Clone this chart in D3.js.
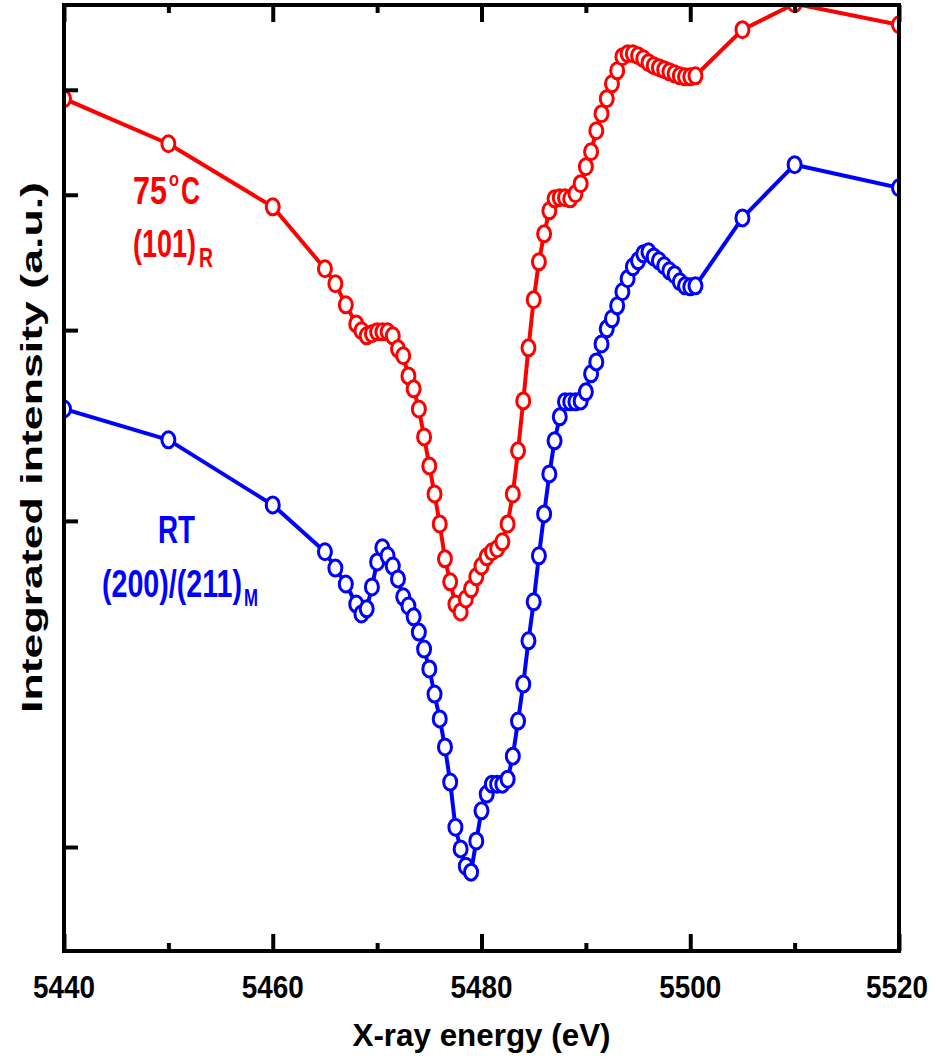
<!DOCTYPE html>
<html>
<head>
<meta charset="utf-8">
<script src="https://cdn.jsdelivr.net/npm/d3@7"></script>
<style>
  html, body { margin: 0; padding: 0; background: #fff; }
  svg { display: block; }
  text { font-family: "Liberation Sans", Arial, sans-serif; font-weight: bold; }
</style>
</head>
<body>
<svg id="chart" width="936" height="1064"></svg>
<script>
// X-ray energies (eV)
const energy = [5440, 5450, 5460, 5465, 5466, 5467,
  5468, 5468.5, 5469, 5469.5, 5470, 5470.5, 5471, 5471.5, 5472, 5472.5,
  5473, 5473.5, 5474, 5474.5, 5475, 5475.5, 5476, 5476.5, 5477, 5477.5,
  5478, 5478.5, 5479, 5479.5, 5480, 5480.5, 5481, 5481.5, 5482, 5482.5,
  5483, 5483.5, 5484, 5484.5, 5485, 5485.5, 5486, 5486.5, 5487, 5487.5,
  5488, 5488.5, 5489, 5489.5, 5490, 5490.5, 5491, 5491.5, 5492, 5492.5,
  5493, 5493.5, 5494, 5494.5, 5495, 5495.5, 5496, 5496.5, 5497, 5497.5,
  5498, 5498.5, 5499, 5499.5, 5500, 5500.5, 5505, 5510, 5520];

// 75oC, (101)R  integrated intensity (a.u., log axis)
const red75C = [4.906, 4.458, 3.899, 3.418, 3.311, 3.166,
  3.040, 2.996, 2.964, 2.977, 2.989, 2.989, 2.989, 2.964, 2.883, 2.841,
  2.722, 2.648, 2.537, 2.391, 2.248, 2.118, 1.987, 1.845, 1.757, 1.676,
  1.648, 1.694, 1.731, 1.776, 1.817, 1.853, 1.873, 1.885, 1.913, 1.987,
  2.118, 2.321, 2.581, 2.889, 3.200, 3.469, 3.681, 3.866, 3.966, 3.975,
  3.975, 3.966, 4.009, 4.095, 4.246, 4.383, 4.583, 4.752, 4.906, 5.064,
  5.206, 5.364, 5.398, 5.398, 5.375, 5.341, 5.296, 5.262, 5.240, 5.218,
  5.195, 5.173, 5.151, 5.140, 5.140, 5.151, 5.681, 6.004, 5.741];

// RT, (200)/(211)M
const blueRT = [2.537, 2.376, 2.069, 1.873, 1.809, 1.749,
  1.676, 1.641, 1.659, 1.738, 1.833, 1.889, 1.857, 1.817, 1.768, 1.702,
  1.669, 1.631, 1.579, 1.523, 1.460, 1.384, 1.313, 1.237, 1.148, 1.043,
  0.996, 0.960, 0.948, 1.013, 1.080, 1.119, 1.143, 1.143, 1.143, 1.155,
  1.213, 1.307, 1.414, 1.550, 1.684, 1.857, 2.030, 2.210, 2.371, 2.495,
  2.576, 2.576, 2.576, 2.581, 2.631, 2.734, 2.804, 2.913, 3.008, 3.073,
  3.159, 3.255, 3.346, 3.432, 3.476, 3.528, 3.543, 3.505, 3.476, 3.440,
  3.403, 3.375, 3.325, 3.296, 3.289, 3.296, 3.808, 4.264, 4.060];

const xMajorTicks = [5440, 5460, 5480, 5500, 5520];
const xMinorTicks = [5450, 5470, 5490, 5510];
const yTicks = [1, 2, 3, 4, 5];
const xDomain = [5440, 5520];
const yDomain = [0.8, 6];

const svg = d3.select("#chart");
const L = 64, R = 899, T = 5, B = 951;

const x = d3.scaleLinear().domain(xDomain).range([L, R]);
const y = d3.scaleLog().domain(yDomain).range([B + 1, T - 1]);

svg.append("defs").append("clipPath").attr("id", "plotclip")
  .append("rect").attr("x", L).attr("y", T).attr("width", R - L).attr("height", B - T);

const plot = svg.append("g").attr("clip-path", "url(#plotclip)");

function drawSeries(vals, color) {
  const pts = energy.map((e, i) => [e, vals[i]]);
  const line = d3.line().x(d => x(d[0])).y(d => y(d[1]));
  plot.append("path").datum(pts)
    .attr("d", line).attr("fill", "none")
    .attr("stroke", color).attr("stroke-width", 4).attr("stroke-linejoin", "round");
  plot.append("g").selectAll("ellipse").data(pts).join("ellipse")
    .attr("cx", d => x(d[0])).attr("cy", d => y(d[1]))
    .attr("rx", 6.5).attr("ry", 8)
    .attr("fill", "#fff").attr("stroke", color).attr("stroke-width", 3);
}
drawSeries(blueRT, "#0000ff");
drawSeries(red75C, "#ff0000");

// Axes ticks
function styleAxis(g) {
  g.select(".domain").remove();
  g.selectAll(".tick line").attr("stroke", "#000").attr("stroke-width", 4);
}
svg.append("g").attr("transform", `translate(0,${B})`)
  .call(d3.axisBottom(x).tickValues(xMajorTicks).tickSize(-17).tickFormat(""))
  .call(styleAxis);
svg.append("g").attr("transform", `translate(0,${B})`)
  .call(d3.axisBottom(x).tickValues(xMinorTicks).tickSize(-8).tickFormat(""))
  .call(styleAxis);
svg.append("g").attr("transform", `translate(0,${T})`)
  .call(d3.axisTop(x).tickValues(xMajorTicks).tickSize(-17).tickFormat(""))
  .call(styleAxis);
svg.append("g").attr("transform", `translate(0,${T})`)
  .call(d3.axisTop(x).tickValues(xMinorTicks).tickSize(-8).tickFormat(""))
  .call(styleAxis);
svg.append("g").attr("transform", `translate(${L},0)`)
  .call(d3.axisLeft(y).tickValues(yTicks).tickSize(-14).tickFormat(""))
  .call(styleAxis);

// Frame
svg.append("rect").attr("x", L).attr("y", T).attr("width", R - L).attr("height", B - T)
  .attr("fill", "none").attr("stroke", "#000").attr("stroke-width", 4);

// Tick labels
svg.append("g").selectAll("text").data(xMajorTicks).join("text")
  .attr("x", d => Math.min(x(d), 897)).attr("y", 998)
  .attr("text-anchor", "middle").attr("font-size", 32)
  .attr("textLength", 62).attr("lengthAdjust", "spacingAndGlyphs")
  .text(d => d);

// Axis titles
svg.append("text").attr("x", (L + R) / 2).attr("y", 1046)
  .attr("text-anchor", "middle").attr("font-size", 32)
  .attr("textLength", 258).attr("lengthAdjust", "spacingAndGlyphs")
  .text("X-ray energy (eV)");
svg.append("text").attr("transform", "translate(42,447.5) rotate(-90)")
  .attr("text-anchor", "middle").attr("font-size", 30)
  .attr("textLength", 531).attr("lengthAdjust", "spacingAndGlyphs")
  .text("Integrated intensity (a.u.)");

// Series labels
function lab(txt, xx, yy, fs, len, color) {
  svg.append("text").attr("x", xx).attr("y", yy).attr("font-size", fs)
    .attr("textLength", len).attr("lengthAdjust", "spacingAndGlyphs")
    .attr("fill", color).text(txt);
}
lab("75", 133, 204, 39, 34, "#ff0000");
lab("o", 169, 186, 21, 10, "#ff0000");
lab("C", 181, 204, 39, 19, "#ff0000");
lab("(101)", 133, 257, 39, 63, "#ff0000");
lab("R", 199, 267, 27, 14, "#ff0000");

lab("RT", 158, 543, 39, 37, "#0000ff");
lab("(200)/(211)", 102, 597, 39, 140, "#0000ff");
lab("M", 244, 606, 24, 14, "#0000ff");
</script>
</body>
</html>
